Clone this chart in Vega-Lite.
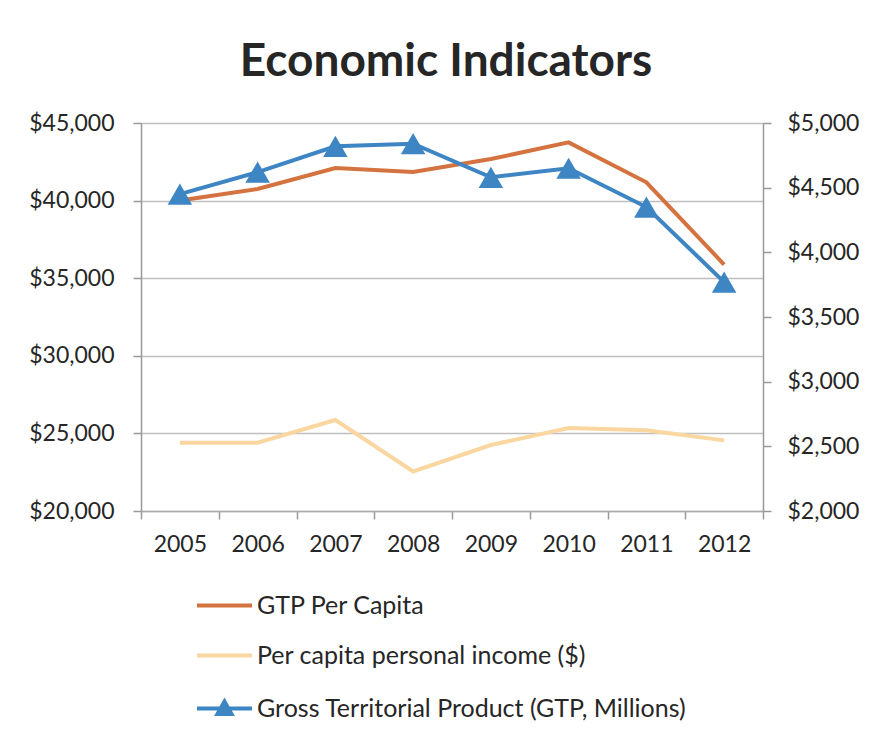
{
  "$schema": "https://vega.github.io/schema/vega-lite/v6.json",
  "width": 622,
  "height": 388,
  "autosize": {"type": "none"},
  "padding": {"left": 141, "top": 123, "right": 107, "bottom": 231},
  "background": "white",
  "config": {
    "font": "Lato",
    "view": {"stroke": null},
    "axis": {"labelFont": "Lato", "labelColor": "#262626", "labelFontSize": 23}
  },
  "title": {
    "text": "Economic Indicators",
    "fontSize": 46,
    "fontWeight": "bold",
    "color": "#262626",
    "anchor": "middle",
    "offset": 26,
    "dx": -6
  },
  "datasets": {
    "left": [
      {"year": "2005", "series": "GTP Per Capita", "value": 40000},
      {"year": "2006", "series": "GTP Per Capita", "value": 40750},
      {"year": "2007", "series": "GTP Per Capita", "value": 42100},
      {"year": "2008", "series": "GTP Per Capita", "value": 41850},
      {"year": "2009", "series": "GTP Per Capita", "value": 42680},
      {"year": "2010", "series": "GTP Per Capita", "value": 43750},
      {"year": "2011", "series": "GTP Per Capita", "value": 41180},
      {"year": "2012", "series": "GTP Per Capita", "value": 35880},
      {"year": "2005", "series": "Per capita personal income ($)", "value": 24400},
      {"year": "2006", "series": "Per capita personal income ($)", "value": 24400},
      {"year": "2007", "series": "Per capita personal income ($)", "value": 25860},
      {"year": "2008", "series": "Per capita personal income ($)", "value": 22550},
      {"year": "2009", "series": "Per capita personal income ($)", "value": 24250},
      {"year": "2010", "series": "Per capita personal income ($)", "value": 25340},
      {"year": "2011", "series": "Per capita personal income ($)", "value": 25200},
      {"year": "2012", "series": "Per capita personal income ($)", "value": 24550}
    ],
    "right": [
      {"year": "2005", "series": "Gross Territorial Product (GTP, Millions)", "value": 4450},
      {"year": "2006", "series": "Gross Territorial Product (GTP, Millions)", "value": 4620},
      {"year": "2007", "series": "Gross Territorial Product (GTP, Millions)", "value": 4820},
      {"year": "2008", "series": "Gross Territorial Product (GTP, Millions)", "value": 4840},
      {"year": "2009", "series": "Gross Territorial Product (GTP, Millions)", "value": 4580},
      {"year": "2010", "series": "Gross Territorial Product (GTP, Millions)", "value": 4650},
      {"year": "2011", "series": "Gross Territorial Product (GTP, Millions)", "value": 4350},
      {"year": "2012", "series": "Gross Territorial Product (GTP, Millions)", "value": 3770}
    ]
  },
  "layer": [
    {
      "data": {"name": "left"},
      "mark": {"type": "line", "strokeWidth": 4},
      "encoding": {
        "x": {
          "field": "year",
          "type": "ordinal",
          "bandPosition": 0.5,
          "scale": {"type": "band", "paddingInner": 0, "paddingOuter": 0},
          "axis": {
            "title": null,
            "labelAngle": 0,
            "tickBand": "extent",
            "tickSize": 8,
            "tickColor": "#999999",
            "tickWidth": 1.5,
            "domainColor": "#aaaaaa",
            "domainWidth": 1.5,
            "labelPadding": 14,
            "grid": false
          }
        },
        "y": {
          "field": "value",
          "type": "quantitative",
          "scale": {"domain": [20000, 45000]},
          "axis": {
            "title": null,
            "values": [20000, 25000, 30000, 35000, 40000, 45000],
            "format": "$,.0f",
            "tickSize": 8,
            "tickColor": "#999999",
            "tickWidth": 1.5,
            "labelPadding": 19,
            "domainColor": "#999999",
            "domainWidth": 1.5,
            "grid": true,
            "gridColor": "#BFBFBF",
            "gridWidth": 1.5
          }
        },
        "color": {
          "field": "series",
          "type": "nominal",
          "scale": {
            "domain": ["GTP Per Capita", "Per capita personal income ($)", "Gross Territorial Product (GTP, Millions)"],
            "range": ["#D4733F", "#FAD7A0", "#3D85C3"]
          },
          "legend": {
            "title": null,
            "orient": "none",
            "legendX": 71,
            "legendY": 470,
            "direction": "vertical",
            "padding": 0,
            "symbolSize": 400,
            "labelFontSize": 25,
            "labelColor": "#262626",
            "labelFont": "Lato",
            "labelOffset": 20,
            "rowPadding": 24,
            "labelLimit": 700,
            "encode": {
              "symbols": {
                "update": {
                  "shape": {"signal": "datum.value == 'Gross Territorial Product (GTP, Millions)' ? 'M-2.75,0L2.75,0M-0.7,0.55L0,-0.7L0.7,0.55Z' : 'M-2.75,0L2.75,0'"},
                  "fill": {"signal": "datum.value == 'Gross Territorial Product (GTP, Millions)' ? '#3D85C3' : 'transparent'"},
                  "stroke": {"scale": "color", "field": "value"},
                  "strokeWidth": {"value": 4},
                  "opacity": {"value": 1}
                }
              }
            }
          }
        }
      }
    },
    {
      "data": {"name": "right"},
      "encoding": {
        "x": {"field": "year", "type": "ordinal", "bandPosition": 0.5},
        "y": {
          "field": "value",
          "type": "quantitative",
          "scale": {"domain": [2000, 5000]},
          "axis": {
            "title": null,
            "orient": "right",
            "values": [2000, 2500, 3000, 3500, 4000, 4500, 5000],
            "format": "$,.0f",
            "tickSize": 8,
            "tickColor": "#999999",
            "tickWidth": 1.5,
            "labelPadding": 16,
            "domainColor": "#999999",
            "domainWidth": 1.5,
            "grid": false
          }
        },
        "color": {"field": "series", "type": "nominal"}
      },
      "layer": [
        {"mark": {"type": "line", "strokeWidth": 4}},
        {"mark": {"type": "point", "shape": "triangle-up", "filled": true, "opacity": 1, "size": 600}}
      ]
    }
  ],
  "resolve": {"scale": {"y": "independent"}}
}
